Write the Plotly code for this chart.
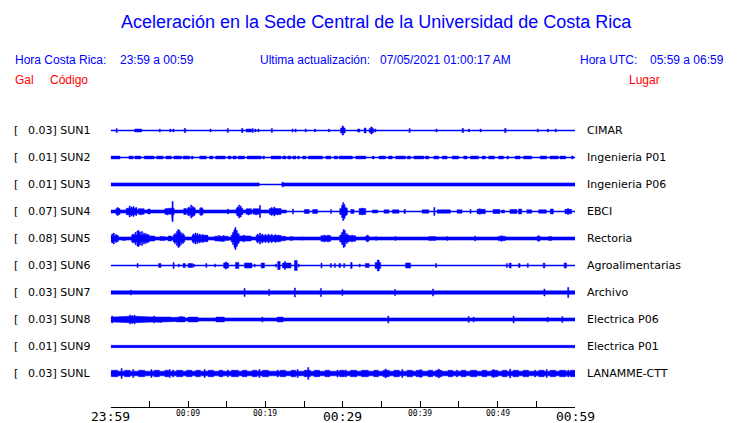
import plotly.graph_objects as go

# ---------------- data ----------------
CODES = ["SUN1", "SUN2", "SUN3", "SUN4", "SUN5", "SUN6", "SUN7", "SUN8", "SUN9", "SUNL"]
GAL = ["0.03", "0.01", "0.01", "0.07", "0.08", "0.03", "0.03", "0.03", "0.01", "0.03"]
PLACES = ["CIMAR", "Ingenieria P01", "Ingenieria P06", "EBCI", "Rectoria",
          "Agroalimentarias", "Archivo", "Electrica P06", "Electrica P01", "LANAMME-CTT"]

TIME_TICKS = [0, 10, 20, 30, 40, 50, 60]          # minutes after 23:59
TIME_LABELS = ["23:59", "00:09", "00:19", "00:29", "00:39", "00:49", "00:59"]
MAJOR_LABELS = ["23:59", "00:29", "00:59"]

# Trace envelopes: base half-amplitude, quiet intervals (min), bursts (t0, t1, half-amplitude)
SUN1_BASE = 0.5
SUN1_QUIET = []
SUN1_EVENTS = [(0.77, 0.77, 2), (3.1, 4.0, 1.5), (3.4, 3.8, 2), (6.35, 6.35, 1.5), (7.7, 7.7, 1.5),
               (8.1, 8.1, 1.5), (9.5, 9.7, 2), (12.9, 12.9, 1.5), (15.05, 15.2, 2), (16.9, 17.1, 2),
               (17.5, 18.2, 1.5), (18.35, 18.35, 2), (18.7, 18.7, 1.5), (19.1, 19.1, 1.5),
               (20.75, 20.9, 2), (23.5, 23.5, 1.5), (23.9, 23.9, 1.5), (25.2, 25.2, 1.5),
               (26.4, 26.4, 1.5), (28.2, 28.2, 1.5), (29.7, 30.3, 2.5), (29.9, 30.1, 4.5),
               (31.9, 32.2, 1.5), (32.75, 33.0, 2.5), (33.4, 34.0, 2), (33.6, 33.8, 3.5),
               (34.2, 34.2, 1.5), (38.55, 38.7, 2), (42.1, 42.1, 1.5), (45.4, 45.6, 2),
               (46.3, 46.3, 1.5), (47.8, 47.8, 1.5), (50.9, 51.1, 2), (51.9, 51.9, 1),
               (55.2, 55.2, 1.5), (56.5, 56.5, 1.5), (57.5, 57.5, 1.5), (58.8, 58.8, 1)]

SUN2_BASE = 0.5
SUN2_QUIET = []
SUN2_EVENTS = [(a, b, 1.4) for a, b in [
    (0, 1.2), (2.36, 2.91), (3.13, 3.9), (4.33, 5.62), (5.92, 6.78), (7.12, 7.85), (8.15, 9.14),
    (9.35, 10.21), (10.42, 10.64), (11.5, 12.36), (12.78, 13.21), (13.56, 14.8), (15.15, 15.57),
    (15.79, 16.22), (16.43, 17.29), (17.63, 19.44), (19.65, 19.87), (20.72, 22.01), (22.23, 22.66),
    (22.87, 23.3), (23.51, 23.94), (24.16, 24.37), (24.8, 25.23), (25.53, 27.38), (27.81, 28.45),
    (28.88, 29.31), (29.52, 31.24), (31.67, 32.96), (33.81, 34.03), (34.67, 35.53), (35.87, 36.39),
    (36.82, 38.1), (38.32, 38.75), (39.18, 40.47), (40.68, 41.11), (41.75, 42.4), (42.83, 43.47),
    (44.11, 44.97), (45.62, 46.04), (46.47, 47.55), (47.98, 48.41), (48.84, 49.61), (50.12, 50.77),
    (51.2, 51.41), (52.27, 52.91), (53.34, 54.41), (55.49, 56.34), (56.77, 57.85), (58.06, 58.79),
    (59.56, 59.78)]]

SUN3_BASE = 1.6
SUN3_QUIET = [(19.2, 22.1)]
SUN3_EVENTS = [(22.2, 22.3, 2.5)]

SUN4_BASE = 1.6
SUN4_QUIET = [(22.7, 60)]
SUN4_EVENTS = [(0.68, 1.2, 3.0), (0.9, 0.9, 4), (2.0, 3.4, 3.2), (2.45, 2.45, 5.5), (2.7, 2.7, 4.5),
               (2.95, 2.95, 5), (3.3, 3.3, 4), (3.56, 4.33, 2.8), (3.9, 3.9, 3.5), (4.8, 5.1, 2.5),
               (6.99, 7.85, 2.8), (7.3, 7.3, 3.5), (7.85, 8.19, 3.5), (7.97, 8.03, 10), (9.44, 9.78, 3),
               (9.9, 10.94, 3.2), (10.1, 10.1, 4.5), (10.4, 10.4, 6.5), (10.6, 10.6, 5), (10.8, 10.8, 4),
               (11.5, 11.93, 3.2), (11.7, 11.7, 4), (15.1, 15.2, 2.5), (16.22, 17.08, 3.2),
               (16.4, 16.4, 4.5), (16.6, 16.6, 6.5), (16.8, 16.8, 5.5), (17.5, 18.2, 2.8),
               (17.8, 17.8, 3.5), (18.4, 19.2, 2.8), (18.8, 18.8, 3.5), (19.3, 19.3, 6),
               (20.51, 22.01, 3.0), (20.8, 20.8, 4), (21.15, 21.15, 4.5), (21.6, 21.6, 3.5),
               (23.51, 23.6, 2.5), (25.02, 25.66, 2), (26.09, 26.73, 2), (28.45, 28.5, 2),
               (29.6, 30.6, 3), (29.9, 29.9, 6), (30.05, 30.05, 9), (30.2, 30.2, 7), (30.4, 30.4, 4),
               (31.02, 31.45, 2), (32.1, 32.96, 3.0), (32.5, 32.5, 3.5), (33.8, 34.5, 1.5),
               (35.31, 35.96, 1.7), (36.4, 37.25, 1.7), (37.9, 38.1, 2), (40.25, 41.11, 1.7),
               (41.8, 41.85, 4), (42.18, 43.9, 1.7), (44.75, 45.4, 1.7), (46.5, 46.5, 2),
               (47.34, 48.41, 2.2), (47.7, 47.7, 2.8), (49.4, 50.3, 2), (50.5, 50.9, 1.5),
               (51.6, 52.5, 2), (52.7, 53.1, 2.5), (53.77, 54.4, 1.7), (55.3, 56.3, 1.7),
               (56.8, 57.2, 2.5), (58.7, 59.56, 2.2), (59.1, 59.1, 3)]

SUN5_BASE = 1.6
SUN5_QUIET = []
SUN5_EVENTS = [(0, 1.0, 3), (0.2, 0.2, 4.5), (0.4, 0.4, 5.5), (0.7, 0.7, 4), (1.5, 1.9, 2),
               (2.7, 5.0, 3.5), (2.9, 2.9, 4.5), (3.2, 3.2, 6), (3.45, 3.45, 7.5), (3.6, 3.6, 8),
               (3.8, 3.8, 6.5), (4.05, 4.05, 7), (4.3, 4.3, 5.5), (4.55, 4.55, 5), (4.8, 4.8, 4),
               (5.06, 5.7, 2.5), (6.35, 7.0, 2), (7.42, 7.85, 2.5), (8.06, 9.57, 3.5), (8.3, 8.3, 5),
               (8.55, 8.55, 7), (8.75, 8.75, 9), (8.9, 8.9, 8), (9.1, 9.1, 6), (9.35, 9.35, 5),
               (10.51, 12.57, 3.2), (10.7, 10.7, 4.5), (10.95, 10.95, 5.5), (11.2, 11.2, 5),
               (11.5, 11.5, 4.5), (11.9, 11.9, 4), (12.3, 12.3, 3.5), (13.42, 15.15, 2.3),
               (14.0, 14.0, 3), (14.6, 14.6, 3), (15.57, 16.65, 3.5), (15.8, 15.8, 6), (16.0, 16.0, 9),
               (16.12, 16.12, 11), (16.3, 16.3, 8), (16.5, 16.5, 5), (16.65, 18.15, 2.6),
               (17.2, 17.2, 3.5), (18.79, 22.0, 3.0), (19.0, 19.0, 4.5), (19.3, 19.3, 5.5),
               (19.6, 19.6, 4.5), (20.0, 20.0, 4), (20.4, 20.4, 4.5), (20.8, 20.8, 4), (21.3, 21.3, 4),
               (21.7, 21.7, 3.5), (22.0, 22.6, 2.3), (23.2, 23.5, 2), (24.7, 24.8, 1.8),
               (27.16, 28.45, 2.8), (27.6, 27.6, 3.5), (28.1, 28.1, 3.5), (29.6, 30.81, 3.5),
               (29.9, 29.9, 6), (30.1, 30.1, 9), (30.25, 30.25, 8), (30.5, 30.5, 5),
               (30.81, 31.67, 2.8), (31.2, 31.2, 3.5), (32.96, 33.39, 2.5), (33.2, 33.2, 3.5),
               (34.3, 34.3, 2), (36.8, 36.8, 2), (41.1, 42.0, 2), (43.5, 43.5, 2), (47.1, 47.1, 2.5),
               (50.1, 51.0, 2.2), (50.5, 50.5, 2.8), (55.1, 55.5, 2.2), (55.3, 55.3, 2.8), (56.6, 57.0, 2)]

SUN6_BASE = 0.5
SUN6_QUIET = []
SUN6_EVENTS = [(3.47, 3.47, 2), (5.06, 5.06, 1), (6.2, 6.5, 2), (8.06, 8.2, 3), (8.8, 8.8, 1.5),
               (9.35, 9.65, 2), (10.0, 10.6, 2), (10.75, 10.75, 1.5), (12.36, 12.36, 2), (13.0, 13.0, 1),
               (13.5, 13.5, 1.5), (14.59, 15.23, 2.5), (14.8, 15.0, 3.5), (16.13, 16.56, 3),
               (17.29, 18.26, 2.5), (18.6, 18.6, 1.5), (19.44, 19.87, 2.5), (21.3, 21.4, 1.5),
               (21.58, 21.9, 4), (22.2, 23.3, 2.5), (22.45, 22.6, 4), (23.75, 24.1, 5), (24.3, 24.3, 1.5),
               (27.24, 27.24, 2.5), (28.45, 28.45, 2), (28.97, 28.97, 2), (29.5, 29.7, 2),
               (30.1, 30.25, 2), (31.0, 31.2, 3), (32.18, 32.18, 1.5), (32.9, 33.4, 2),
               (34.17, 34.89, 3), (34.45, 34.7, 5.5), (38.1, 38.75, 2.5), (42.05, 42.05, 2),
               (51.2, 51.2, 2), (51.5, 51.75, 2.5), (52.7, 52.9, 2), (53.9, 53.9, 2), (55.9, 56.1, 2.5),
               (58.6, 58.9, 2.5)]

SUN7_BASE = 1.7
SUN7_QUIET = []
SUN7_EVENTS = [(2.61, 2.61, 2.5), (17.25, 17.35, 4), (20.47, 20.47, 3), (23.75, 23.85, 4.5),
               (27.13, 27.2, 4), (29.95, 29.95, 3), (36.7, 36.8, 3), (41.6, 41.7, 3.5),
               (56.05, 56.05, 3.5), (59.05, 59.2, 5)]

SUN8_BASE = 1.6
SUN8_QUIET = []
SUN8_EVENTS = [(0, 7.85, 2.5), (0.2, 0.2, 3.5), (0.6, 0.6, 3.2), (1.2, 1.2, 3.2), (2.27, 3.34, 3.2),
               (2.5, 2.5, 4.5), (2.8, 2.8, 4), (3.1, 3.1, 4.2), (4.2, 4.2, 3.2), (5.6, 5.6, 3.5),
               (6.5, 6.5, 3), (7.85, 8.49, 2), (8.49, 9.6, 2.4), (9.0, 9.0, 3), (10.0, 11.3, 2.4),
               (10.6, 10.6, 3), (11.6, 12.2, 2.3), (12.5, 13.3, 2.3), (13.6, 14.7, 2.4), (14.2, 14.2, 3),
               (15.0, 15.0, 2), (15.5, 15.5, 2), (16.0, 16.0, 2), (17.2, 17.2, 2), (17.7, 17.7, 2),
               (18.3, 18.3, 2), (19.6, 19.6, 2.5), (20.7, 21.2, 2.3), (21.5, 22.3, 2.4), (22.5, 23.3, 2.3),
               (24.6, 24.6, 2), (27.2, 27.2, 1.8), (35.87, 35.87, 3.5), (46.26, 46.26, 3),
               (46.9, 46.9, 2.5), (49.5, 49.5, 2), (52.06, 52.06, 3.5), (56.47, 56.47, 2.5),
               (58.36, 58.36, 3)]

SUN9_BASE = 1.2
SUN9_QUIET = []
SUN9_EVENTS = []

SUNL_BASE = 2.3
SUNL_QUIET = []
SUNL_EVENTS = [(0.1, 0.9, 3.2), (1.41, 1.41, 5), (1.8, 2.5, 3.2), (2.91, 2.91, 4), (3.6, 4.4, 3.2),
               (5.27, 5.27, 4), (5.6, 6.3, 3.2), (7.0, 7.5, 3.2), (7.63, 7.63, 4), (8.06, 8.06, 3.5),
               (8.5, 9.3, 3.2), (9.8, 10.5, 3.2), (11.0, 11.6, 3.2), (12.14, 12.14, 4), (12.6, 13.3, 3.2),
               (14.0, 14.5, 3.2), (15.15, 15.15, 3.5), (15.6, 16.5, 3.2), (17.0, 17.6, 3.2),
               (18.3, 18.9, 3.2), (19.22, 19.22, 4), (19.6, 20.4, 3.2), (21.58, 21.58, 3.5),
               (21.9, 22.6, 3.2), (23.3, 23.9, 3.2), (24.16, 24.16, 4), (25.0, 25.8, 3.2),
               (25.53, 25.53, 6), (26.3, 27.0, 3.2), (27.7, 28.3, 3.2), (29.31, 29.31, 3.5),
               (29.6, 30.2, 3.2), (30.38, 30.38, 3.5), (31.0, 31.8, 3.2), (32.4, 33.3, 3.2),
               (32.96, 32.96, 3.5), (34.0, 34.6, 3.2), (35.2, 36.0, 3.2), (35.53, 35.53, 4.5),
               (36.6, 37.3, 3.2), (37.68, 37.68, 4), (38.3, 39.0, 3.2), (39.5, 40.3, 3.2),
               (40.04, 40.04, 4), (41.0, 41.6, 3.2), (42.0, 42.8, 3.2), (42.4, 42.4, 4.5),
               (43.6, 44.2, 3.2), (44.76, 44.76, 3.5), (45.3, 45.9, 3.2), (46.5, 47.3, 3.2),
               (47.12, 47.12, 3.5), (48.0, 48.6, 3.2), (49.2, 50.0, 3.2), (49.48, 49.48, 4),
               (50.6, 51.2, 3.2), (51.62, 51.62, 4.5), (52.0, 52.7, 3.2), (53.3, 54.0, 3.2),
               (54.84, 54.84, 3.5), (55.3, 56.0, 3.2), (56.34, 56.34, 4), (56.8, 57.5, 3.2),
               (58.0, 58.8, 3.2), (59.13, 59.13, 3.5), (59.4, 60.0, 3.2)]

TRACES = [
    (SUN1_BASE, SUN1_QUIET, SUN1_EVENTS), (SUN2_BASE, SUN2_QUIET, SUN2_EVENTS),
    (SUN3_BASE, SUN3_QUIET, SUN3_EVENTS), (SUN4_BASE, SUN4_QUIET, SUN4_EVENTS),
    (SUN5_BASE, SUN5_QUIET, SUN5_EVENTS), (SUN6_BASE, SUN6_QUIET, SUN6_EVENTS),
    (SUN7_BASE, SUN7_QUIET, SUN7_EVENTS), (SUN8_BASE, SUN8_QUIET, SUN8_EVENTS),
    (SUN9_BASE, SUN9_QUIET, SUN9_EVENTS), (SUNL_BASE, SUNL_QUIET, SUNL_EVENTS),
]

# ---------------- layout constants ----------------
W, H = 740, 423
X0_PX, X1_PX = 110.7, 575.0
T_MAX = 60
ROW0, ROW_STEP = 130.5, 27
AXIS_Y = 407.5
THIN = 0.5
SPIKE_W = 0.14
BLUE = "#0000ff"
RED = "#ff0000"


def envelope(base, quiet, events):
    cuts = {0.0, float(T_MAX)}
    spans = []
    for a, b, h in events:
        if b - a < SPIKE_W:
            c = (a + b) / 2
            a, b = c - SPIKE_W / 2, c + SPIKE_W / 2
        a, b = max(a, 0.0), min(b, float(T_MAX))
        spans.append((a, b, h))
        cuts |= {a, b}
    for a, b in quiet:
        cuts |= {float(a), float(b)}
    cuts = sorted(cuts)
    xs, hs = [], []
    for a, b in zip(cuts[:-1], cuts[1:]):
        m = (a + b) / 2
        h = THIN if any(qa <= m <= qb for qa, qb in quiet) else base
        for sa, sb, sh in spans:
            if sa <= m <= sb:
                h = max(h, sh)
        xs += [a, b]
        hs += [h, h]
    return xs, hs


fig = go.Figure()
for i, (base, quiet, events) in enumerate(TRACES):
    c = -(ROW0 + ROW_STEP * i)
    xs, hs = envelope(base, quiet, events)
    px = xs + xs[::-1]
    py = [c + h for h in hs] + [c - h for h in hs[::-1]]
    fig.add_trace(go.Scatter(x=px, y=py, mode="lines", fill="toself", fillcolor=BLUE,
                             line=dict(color=BLUE, width=0.5), hoverinfo="skip", showlegend=False))

# time-axis baseline
fig.add_trace(go.Scatter(x=[0, T_MAX], y=[-AXIS_Y, -AXIS_Y], mode="lines",
                         line=dict(color="black", width=1), hoverinfo="skip", showlegend=False))

annotations = []


def text(x_px, y_px, s, size, color, family, anchor="left"):
    annotations.append(dict(x=x_px / W, xref="paper", y=-y_px, yref="y", text=s, showarrow=False,
                            xanchor=anchor, yanchor="middle", borderpad=0, borderwidth=0,
                            font=dict(size=size, color=color, family=family)))


HF = "Liberation Sans, Arial, sans-serif"
text(376, 22, "Aceleración en la Sede Central de la Universidad de Costa Rica", 18, BLUE, HF, "center")
text(15, 60, "Hora Costa Rica:", 12, BLUE, HF)
text(120, 60, "23:59 a 00:59", 12, BLUE, HF)
text(260, 60, "Ultima actualización:", 12, BLUE, HF)
text(380, 60, "07/05/2021 01:00:17 AM", 12, BLUE, HF)
text(580, 60, "Hora UTC:", 12, BLUE, HF)
text(650, 60, "05:59 a 06:59", 12, BLUE, HF)
text(15, 80, "Gal", 12, RED, HF)
text(50, 80, "Código", 12, RED, HF)
text(629, 80, "Lugar", 12, RED, HF)

LF = "DejaVu Sans"
for i in range(len(CODES)):
    y = ROW0 + ROW_STEP * i
    text(14, y, "[", 11, "black", LF)
    text(28, y, f"{GAL[i]}] {CODES[i]}", 11, "black", LF)
    text(587, y, PLACES[i], 11, "black", LF)

for t, lab in zip(TIME_TICKS, TIME_LABELS):
    big = lab in MAJOR_LABELS
    annotations.append(dict(x=t, xref="x", y=-(416 if big else 413.5), yref="y", text=lab,
                            showarrow=False, xanchor="center", yanchor="middle",
                            borderpad=0, borderwidth=0,
                            font=dict(size=13 if big else 8, color="black", family="DejaVu Sans Mono")))

fig.update_layout(
    width=W, height=H, margin=dict(l=0, r=0, t=0, b=0),
    paper_bgcolor="white", plot_bgcolor="white",
    xaxis=dict(domain=[X0_PX / W, X1_PX / W], range=[0, T_MAX], showgrid=False, zeroline=False,
               showline=False, ticks="inside", ticklen=7,
               tickcolor="black", tickwidth=1, tick0=0, dtick=5, showticklabels=False,
               anchor="free", position=(H - AXIS_Y) / H, fixedrange=True),
    yaxis=dict(domain=[0, 1], range=[-H, 0], visible=False, fixedrange=True),
    annotations=annotations,
    showlegend=False,
)

fig.write_html("out.html", config={"displayModeBar": False},
               post_script="document.body.style.margin='0';document.body.style.overflow='hidden';")
